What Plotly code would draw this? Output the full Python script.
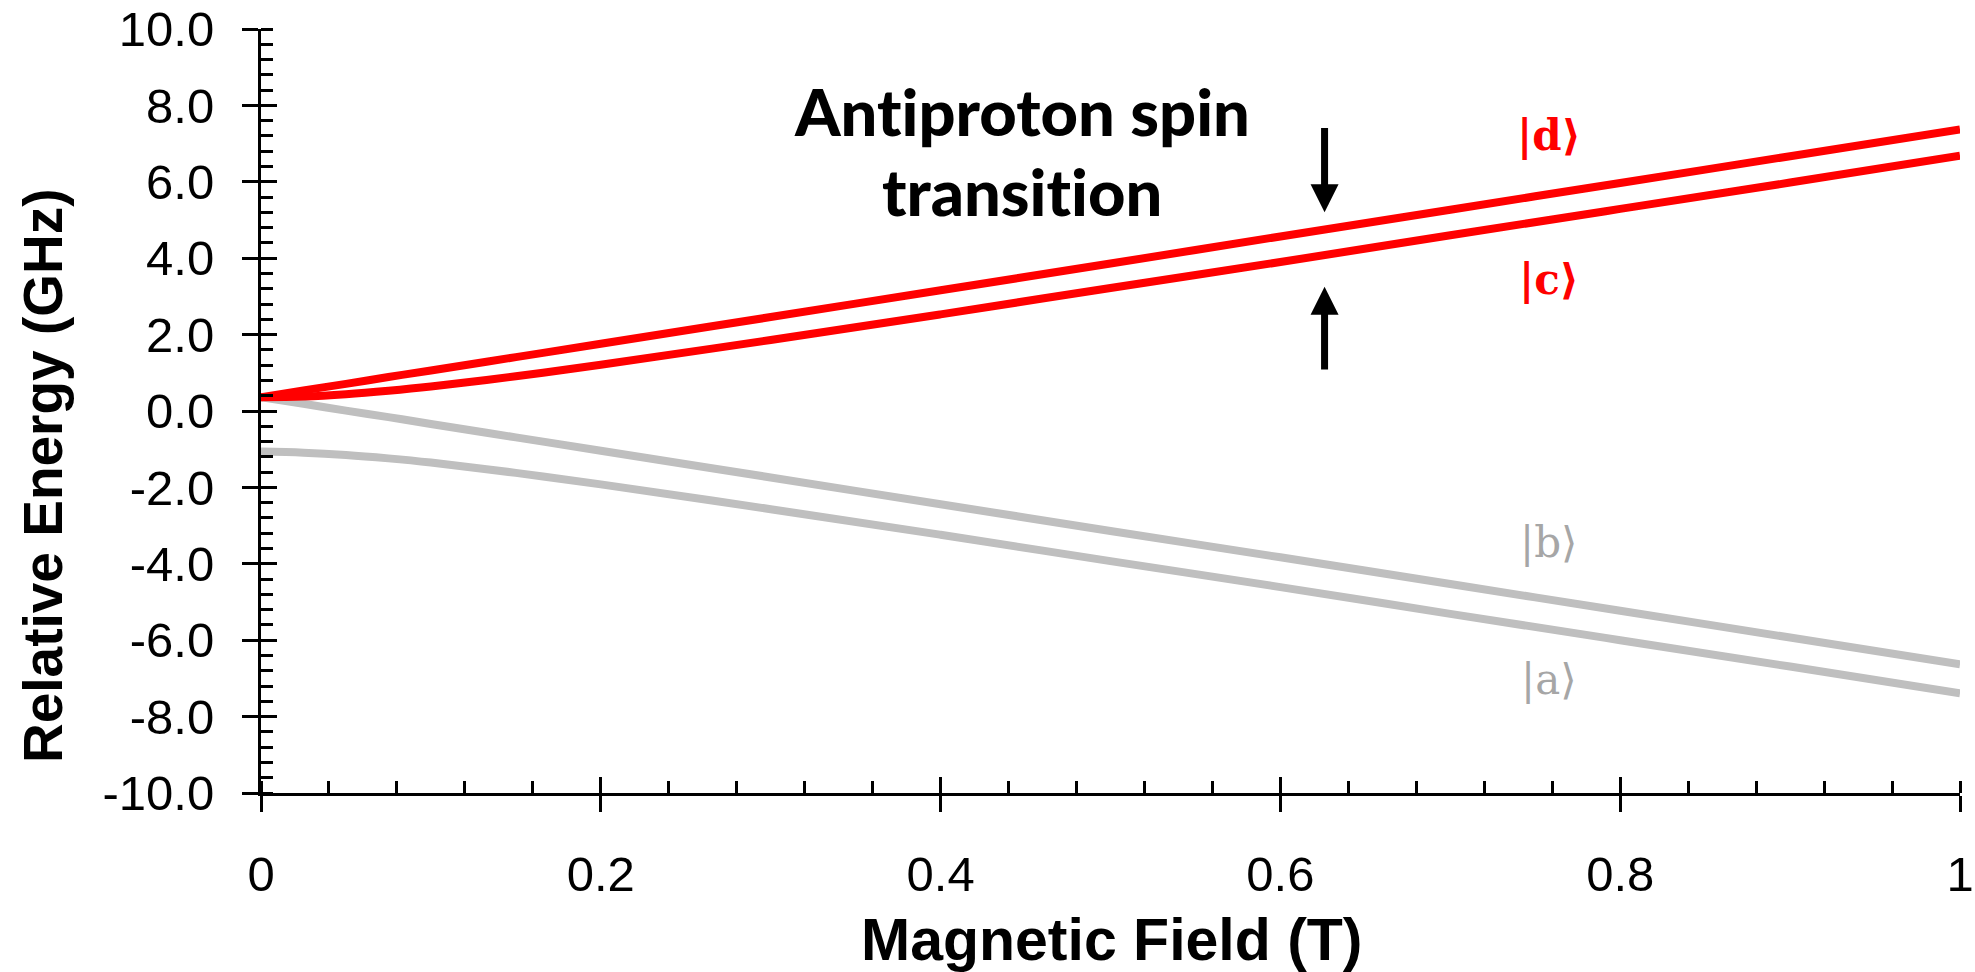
import plotly.graph_objects as go

# ---- data ----
field_T = [0, 0.025, 0.05, 0.075, 0.1, 0.15, 0.2, 0.3, 0.4, 0.5, 0.6, 0.7, 0.8, 0.9, 1.0]
state_d = [0.36, 0.54, 0.71, 0.89, 1.06, 1.41, 1.76, 2.46, 3.16, 3.86, 4.57, 5.27, 5.97, 6.67, 7.37]
state_c = [0.36, 0.38, 0.44, 0.53, 0.64, 0.91, 1.21, 1.86, 2.53, 3.22, 3.90, 4.60, 5.29, 5.98, 6.68]
state_b = [0.36, 0.19, 0.01, -0.16, -0.34, -0.69, -1.04, -1.74, -2.44, -3.14, -3.83, -4.53, -5.23, -5.93, -6.63]
state_a = [-1.06, -1.09, -1.15, -1.24, -1.35, -1.62, -1.92, -2.57, -3.24, -3.93, -4.61, -5.31, -6.00, -6.69, -7.39]

state_names = ["|a⟩", "|b⟩", "|c⟩", "|d⟩"]
label_x = [0.758, 0.758, 0.758, 0.758]
label_y = [-7.04, -3.45, 3.43, 7.20]

y_tickvals = [-10, -8, -6, -4, -2, 0, 2, 4, 6, 8, 10]
y_ticktext = ["-10.0", "-8.0", "-6.0", "-4.0", "-2.0", "0.0", "2.0", "4.0", "6.0", "8.0", "10.0"]
x_tickvals = [0, 0.2, 0.4, 0.6, 0.8, 1.0]
x_ticktext = ["0", "0.2", "0.4", "0.6", "0.8", "1"]

# zero-width non-joiner keeps the "ti" letters apart (no ligature)
transition_lines = ["Ant\u200ciproton spin", "transit\u200cion"]
transition_x = 0.448
transition_y = [7.85, 5.76]

arrow_x = 0.626
arrow_down = (7.45, 5.20)   # tail, tip
arrow_up = (1.05, 3.25)     # tail, tip

RED = "#FF0000"
GREY = "#BFBFBF"
GREY_TXT = "#A6A6A6"
W, H = 1975, 972
L, R, T, B = 261, 15, 29, 179

fig = go.Figure()
for ys in (state_a, state_b):
    fig.add_trace(go.Scatter(x=field_T, y=ys, mode="lines", line=dict(color=GREY, width=8, shape="spline"),
                             showlegend=False, hoverinfo="skip"))
for ys in (state_c, state_d):
    fig.add_trace(go.Scatter(x=field_T, y=ys, mode="lines", line=dict(color=RED, width=8, shape="spline"),
                             showlegend=False, hoverinfo="skip"))
# dummy trace for overlay axes (inside major ticks)
fig.add_trace(go.Scatter(x=[None], y=[None], xaxis="x2", yaxis="y2", showlegend=False, hoverinfo="skip"))

tickfont = dict(family="Liberation Sans, Arial, sans-serif", size=49, color="black")

fig.update_layout(
    width=W, height=H,
    margin=dict(l=L, r=R, t=T, b=B, autoexpand=False),
    paper_bgcolor="white", plot_bgcolor="white",
    xaxis=dict(range=[0, 1], tickvals=x_tickvals, ticktext=x_ticktext, ticks="outside", ticklen=16,
               tickwidth=3, tickcolor="black", showline=True, linewidth=3, linecolor="black",
               showgrid=False, zeroline=False, tickfont=tickfont, ticklabelstandoff=20, automargin=False,
               minor=dict(dtick=0.04, tick0=0, ticks="inside", ticklen=12, tickwidth=2.5,
                          tickcolor="black", showgrid=False),
               anchor="y"),
    yaxis=dict(range=[-10, 10], tickvals=y_tickvals, ticktext=y_ticktext, ticks="outside", ticklen=16,
               tickwidth=3, tickcolor="black", showline=True, linewidth=3, linecolor="black",
               showgrid=False, zeroline=False, tickfont=tickfont, ticklabelstandoff=18, automargin=False,
               minor=dict(dtick=0.4, tick0=-10, ticks="inside", ticklen=12, tickwidth=2.5,
                          tickcolor="black", showgrid=False),
               anchor="x"),
    xaxis2=dict(range=[0, 1], overlaying="x", anchor="y2", side="bottom", tickvals=x_tickvals,
                ticks="inside", ticklen=16, tickwidth=3, tickcolor="black", showticklabels=False,
                showline=False, showgrid=False, zeroline=False, automargin=False),
    yaxis2=dict(range=[-10, 10], overlaying="y", anchor="x2", side="left", tickvals=y_tickvals,
                ticks="inside", ticklen=16, tickwidth=3, tickcolor="black", showticklabels=False,
                showline=False, showgrid=False, zeroline=False, automargin=False),
)

annotations = []
# axis titles
annotations.append(dict(text="<b>Relative Energy (GHz)</b>", xref="paper", yref="paper",
                        x=(43 - L) / (W - L - R), y=(H - B - 476) / (H - T - B),
                        xanchor="center", yanchor="middle", textangle=-90, showarrow=False,
                        font=dict(family="Liberation Sans, Arial, sans-serif", size=55, color="black")))
annotations.append(dict(text="<b>Magnetic Field (T)</b>", xref="paper", yref="paper",
                        x=(1112 - L) / (W - L - R), y=-(940 - (H - B)) / (H - T - B),
                        xanchor="center", yanchor="middle", showarrow=False,
                        font=dict(family="Liberation Sans, Arial, sans-serif", size=59, color="black")))
# transition label (one annotation per line)
for line_text, ly in zip(transition_lines, transition_y):
    annotations.append(dict(text=line_text, xref="x", yref="y", x=transition_x, y=ly,
                            xanchor="center", yanchor="middle", showarrow=False,
                            font=dict(family="Lato, sans-serif", size=65, color="black", weight=900)))
# arrows
for tail, tip in (arrow_down, arrow_up):
    annotations.append(dict(text="", x=arrow_x, y=tip, ax=arrow_x, ay=tail, xref="x", yref="y",
                            axref="x", ayref="y", showarrow=True, arrowhead=2, arrowsize=0.8,
                            arrowwidth=7, arrowcolor="black", standoff=0, startstandoff=0))
# state labels
colors = [GREY_TXT, GREY_TXT, RED, RED]
bold = [False, False, True, True]
for name, lx, ly, col, bd in zip(state_names, label_x, label_y, colors, bold):
    annotations.append(dict(text=f"<b>{name}</b>" if bd else name, x=lx, y=ly, xref="x", yref="y",
                            xanchor="center", yanchor="middle", showarrow=False,
                            font=dict(family="DejaVu Serif, Liberation Serif, serif", size=42, color=col)))
fig.update_layout(annotations=annotations)

fig.write_html("out.html")
